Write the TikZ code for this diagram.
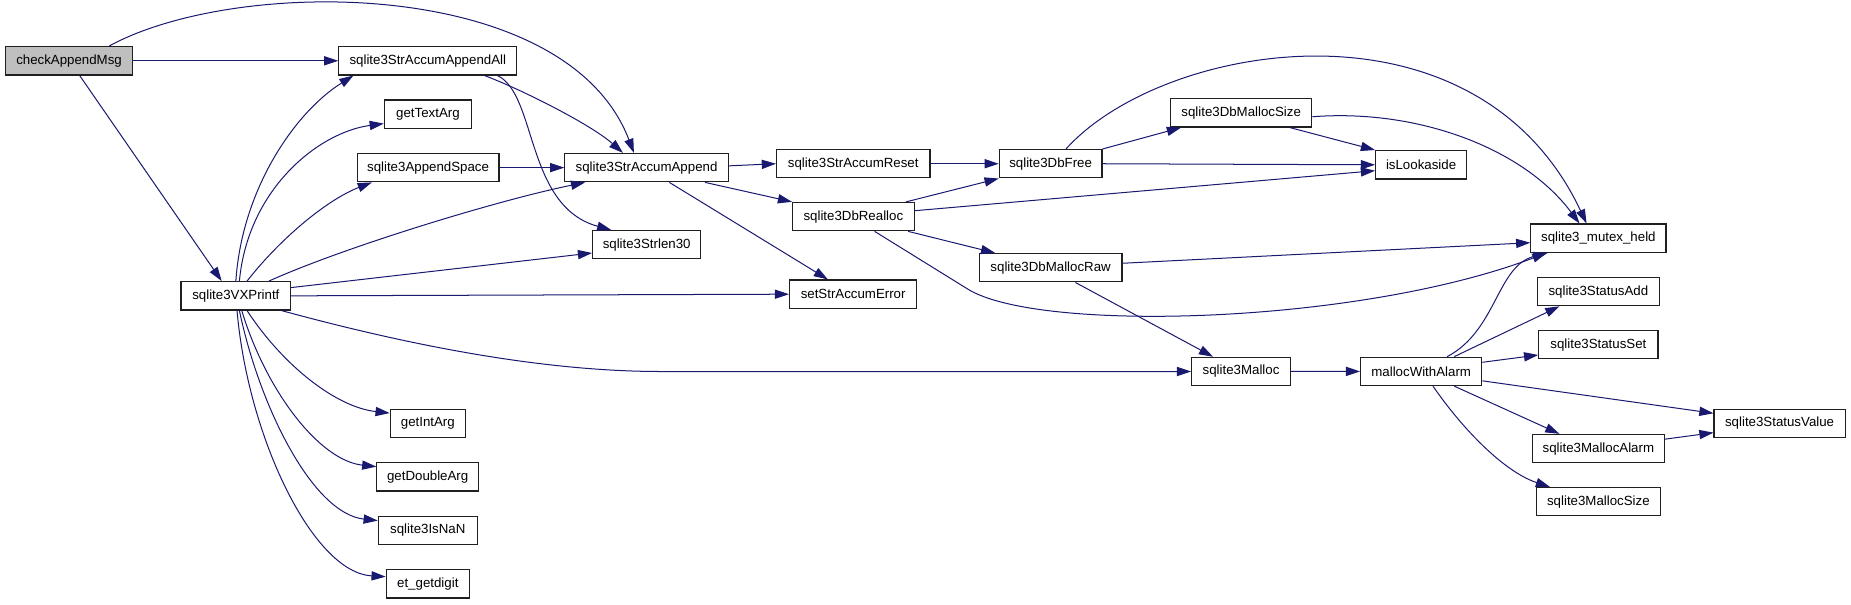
\documentclass[tikz,border=0pt]{standalone}
\usepackage{fontspec}
\setmainfont{Liberation Sans}
\usetikzlibrary{arrows.meta}
\definecolor{edgeblue}{HTML}{191970}
\definecolor{nodegray}{HTML}{BFBFBF}
\definecolor{boxline}{HTML}{202020}
\begin{document}
\begin{tikzpicture}[x=1pt,y=-1pt,
  fn/.style={draw=boxline, line width=1pt, fill=white, minimum height=24pt, inner ysep=0pt, inner xsep=3pt, font=\fontsize{11.25}{13}\selectfont, text=black},
  cur/.style={fn, fill=nodegray},
  e/.style={draw=edgeblue, line width=0.85pt, -{Triangle[length=12pt,width=7.8pt]}},
]
\useasboundingbox (0,0) rectangle (1568,512);
% nodes
\node[cur, minimum width=107.5pt] (cam) at (58.5,51.5) {checkAppendMsg};
\node[fn, minimum width=150.8pt] (aall) at (362.4,51.5) {sqlite3StrAccumAppendAll};
\node[fn, minimum width=73.7pt] (gta) at (362.5,96.7) {getTextArg};
\node[fn, minimum width=120.2pt] (asp) at (362.6,142) {sqlite3AppendSpace};
\node[fn, minimum width=92.8pt] (vxp) at (199.8,250.6) {sqlite3VXPrintf};
\node[fn, minimum width=63.6pt] (gia) at (362.4,358.9) {getIntArg};
\node[fn, minimum width=86.1pt] (gda) at (362.3,403.9) {getDoubleArg};
\node[fn, minimum width=83.8pt] (nan) at (362.4,449.3) {sqlite3IsNaN};
\node[fn, minimum width=70.4pt] (etg) at (362.4,494.5) {et\_getdigit};
\node[fn, minimum width=138.4pt] (sap) at (547.7,142) {sqlite3StrAccumAppend};
\node[fn, minimum width=130pt] (sar) at (722.8,138.7) {sqlite3StrAccumReset};
\node[fn, minimum width=87pt] (dbf) at (890,138.7) {sqlite3DbFree};
\node[fn, minimum width=102.9pt] (dbr) at (722.9,183.5) {sqlite3DbRealloc};
\node[fn, minimum width=91.5pt] (sl30) at (547.8,207.3) {sqlite3Strlen30};
\node[fn, minimum width=107.7pt] (sae) at (722.7,249.2) {setStrAccumError};
\node[fn, minimum width=121pt] (dmr) at (890,226.8) {sqlite3DbMallocRaw};
\node[fn, minimum width=83.7pt] (mal) at (1051.3,314.7) {sqlite3Malloc};
\node[fn, minimum width=119.6pt] (dms) at (1051.4,95.6) {sqlite3DbMallocSize};
\node[fn, minimum width=77pt] (isl) at (1203.8,139.6) {isLookaside};
\node[fn, minimum width=114.4pt] (mh) at (1354,201.8) {sqlite3\_mutex\_held};
\node[fn, minimum width=103pt] (sadd) at (1354,247) {sqlite3StatusAdd};
\node[fn, minimum width=101pt] (sset) at (1354,292) {sqlite3StatusSet};
\node[fn, minimum width=102.6pt] (mwa) at (1203.9,314.6) {mallocWithAlarm};
\node[fn, minimum width=111pt] (sval) at (1507.5,358.7) {sqlite3StatusValue};
\node[fn, minimum width=112pt] (malarm) at (1354,380) {sqlite3MallocAlarm};
\node[fn, minimum width=105.3pt] (msize) at (1354,425) {sqlite3MallocSize};
% edges
\draw[e] (cam) -- (aall);
\draw[e] ([xshift=34pt]cam.north) .. controls (200,-20) and (480,-20) .. ([xshift=-10.7pt]sap.north);
\draw[e] ([xshift=9pt]cam.south) -- ([xshift=-12pt]vxp.north);
\draw[e] ([xshift=48pt]aall.south) .. controls (440,75) and (500,105) .. ([xshift=-20pt]sap.north);
\draw[e] ([xshift=59pt]aall.south) .. controls (455,80) and (445,175) .. ([xshift=-30pt]sl30.north);
\draw[e] (vxp.north) .. controls (205,160) and (250,95) .. ([xshift=-63pt]aall.south);
\draw[e] ([xshift=3pt]vxp.north) .. controls (210,160) and (270,112) .. ([yshift=-8pt]gta.west);
\draw[e] ([xshift=9.5pt]vxp.north) .. controls (235,205) and (275,170) .. ([xshift=-47.6pt]asp.south);
\draw[e] ([xshift=28pt]vxp.north) .. controls (290,210) and (420,170) .. ([xshift=-52pt]sap.south);
\draw[e] ([yshift=7pt]vxp.east) -- ([yshift=-7pt]sl30.west);
\draw[e] (vxp.east) -- (sae.west);
\draw[e] ([xshift=38.7pt]vxp.south) .. controls (330,288) and (450,314.7) .. (560,314.7) -- (mal.west);
\draw[e] ([xshift=9.5pt]vxp.south) .. controls (240,310) and (285,345) .. ([yshift=9pt]gia.west);
\draw[e] ([xshift=5pt]vxp.south) .. controls (225,330) and (270,390) .. ([yshift=8.6pt]gda.west);
\draw[e] ([xshift=3pt]vxp.south) .. controls (220,345) and (265,435) .. ([yshift=8.3pt]nan.west);
\draw[e] ([xshift=1pt]vxp.south) .. controls (210,370) and (265,485) .. ([yshift=6pt]etg.west);
\draw[e] (asp) -- (sap);
\draw[e] ([yshift=1.5pt]sap.east) -- (sar.west);
\draw[e] ([xshift=49.5pt]sap.south) -- (dbr.north west);
\draw[e] ([xshift=19.3pt]sap.south) -- ([xshift=-21.4pt]sae.north);
\draw[e] (sar) -- (dbf);
\draw[e] ([xshift=44.6pt]dbr.north) -- (dbf.south west);
\draw[e] ([yshift=5pt]dbr.east) -- ([yshift=-5pt]isl.west);
\draw[e] ([xshift=46.4pt]dbr.south) -- ([xshift=-47pt]dmr.north);
\draw[e] ([xshift=18pt]dbr.south) -- (820,245) .. controls (880,282) and (1150,275) .. ([xshift=-44pt]mh.south);
\draw[e] (dbf.north east) -- ([xshift=-51pt]dms.south);
\draw[e] (dbf.east) -- (isl.west);
\draw[e] ([xshift=13pt]dbf.north) .. controls (985,35) and (1250,-10) .. ([xshift=-10pt]mh.north);
\draw[e] ([xshift=41.4pt]dms.south) -- (isl.north west);
\draw[e] ([yshift=-3.3pt]dms.east) .. controls (1200,92) and (1290,125) .. ([xshift=-16pt]mh.north);
\draw[e] ([yshift=3.8pt]dmr.east) -- ([yshift=-3.8pt]mh.west);
\draw[e] ([xshift=21pt]dmr.south) -- ([xshift=-23.7pt]mal.north);
\draw[e] (mal) -- (mwa);
\draw[e] ([xshift=22pt]mwa.north) .. controls (1268,280) and (1268,225) .. ([xshift=-43pt]mh.south);
\draw[e] ([xshift=28pt]mwa.north) -- ([xshift=-33pt]sadd.south);
\draw[e] ([yshift=7.7pt]mwa.east) -- ([yshift=-8.7pt]sset.west);
\draw[e] ([yshift=-8pt]mwa.east) -- ([yshift=8.6pt]sval.west);
\draw[e] ([xshift=28pt]mwa.south) -- ([xshift=-33pt]malarm.north);
\draw[e] ([xshift=10pt]mwa.south) .. controls (1240,365) and (1275,400) .. ([xshift=-41pt]msize.north);
\draw[e] ([yshift=8pt]malarm.east) -- ([yshift=-7.8pt]sval.west);
\end{tikzpicture}
\end{document}
